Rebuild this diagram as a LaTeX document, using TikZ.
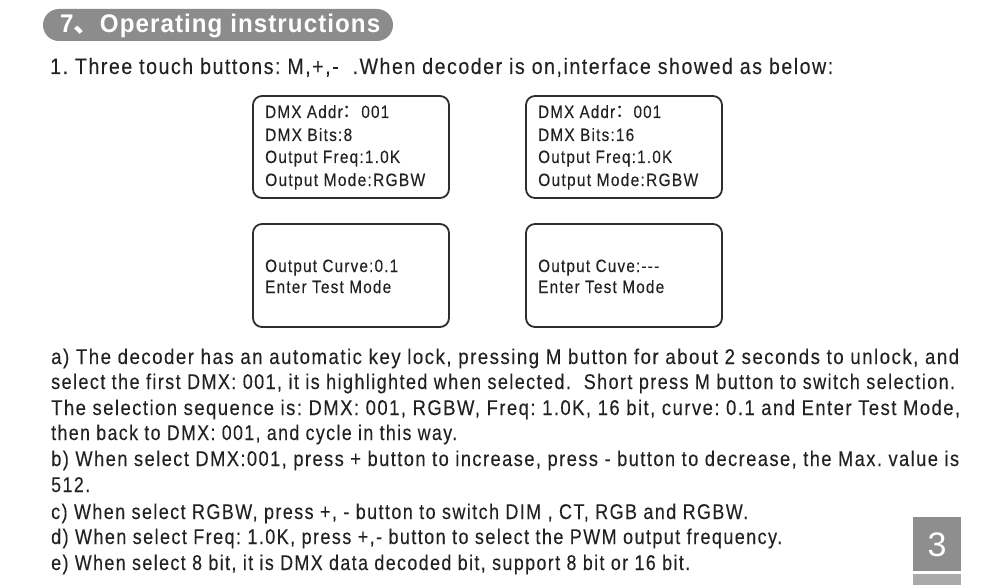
\documentclass[tikz,border=0pt]{standalone}
\usepackage{fontspec}
\usepackage{graphicx}
\setmainfont{Liberation Sans}
\newfontfamily\bodyf[FakeStretch=0.82,LetterSpace=6.5,FakeBold=0.15]{Liberation Sans}
\newfontfamily\titlef[FakeStretch=0.92,LetterSpace=4]{Liberation Sans}
\newfontfamily\cjkf{Noto Sans CJK SC}
\definecolor{txt}{HTML}{222222}
\definecolor{pill}{HTML}{8C8C8C}
\definecolor{pagedark}{HTML}{8E8E8E}
\definecolor{pagelight}{HTML}{AAAAAA}
\definecolor{boxline}{HTML}{2E2E2E}
\newcommand\fitw[2]{\resizebox{#1pt}{\height}{#2}}
\frenchspacing
\tikzset{
  para/.style={anchor=base west, inner sep=0pt, text=txt, font=\bodyf\frenchspacing\fontsize{21.3}{24}\selectfont},
  intro/.style={anchor=base west, inner sep=0pt, text=txt, font=\bodyf\frenchspacing\fontsize{22.3}{24}\selectfont},
  lcd/.style={draw=boxline, line width=1.8pt, rounded corners=9pt, fill=white},
  lcdtext/.style={anchor=base west, inner sep=0pt, text=txt, font=\bodyf\frenchspacing\fontsize{17.8}{20}\selectfont},
}
\begin{document}
\begin{tikzpicture}[x=1pt,y=-1pt]
\useasboundingbox (0,0) rectangle (1000,588);
\fill[white] (0,0) rectangle (1000,588);
% header pill
\fill[pill, rounded corners=16pt] (43,9) rectangle (393,41);
\node[anchor=base west, inner sep=0pt, text=white, font=\titlef\fontsize{25.5}{28}\selectfont\bfseries] (title) at (60,33) {\fitw{320}{7{\cjkf 、}Operating instructions}};
% intro line
\node[intro] (l1) at (50,74) {\fitw{783}{1. Three touch buttons: M,+,-\ \ .When decoder is on,interface showed as below:}};
% LCD boxes
\draw[lcd] (253,96) rectangle (449,198);
\draw[lcd] (526,96) rectangle (722,198);
\draw[lcd] (253,224) rectangle (449,327);
\draw[lcd] (526,224) rectangle (722,327);
\node[lcdtext] (b1a) at (265,118) {\fitw{124}{DMX Addr{\cjkf ：}001}};
\node[lcdtext] (b1b) at (265,141) {\fitw{87}{DMX Bits:8}};
\node[lcdtext] (b1c) at (265,163) {\fitw{135}{Output Freq:1.0K}};
\node[lcdtext] (b1d) at (265,186) {\fitw{160}{Output Mode:RGBW}};
\node[lcdtext] (b2a) at (538,118) {\fitw{123}{DMX Addr{\cjkf ：}001}};
\node[lcdtext] (b2b) at (538,141) {\fitw{96}{DMX Bits:16}};
\node[lcdtext] (b2c) at (538,163) {\fitw{134}{Output Freq:1.0K}};
\node[lcdtext] (b2d) at (538,186) {\fitw{160}{Output Mode:RGBW}};
\node[lcdtext] (b3a) at (265,272) {\fitw{133}{Output Curve:0.1}};
\node[lcdtext] (b3b) at (265,293) {\fitw{126}{Enter Test Mode}};
\node[lcdtext] (b4a) at (538,272) {\fitw{121}{Output Cuve:{-}{-}{-}}};
\node[lcdtext] (b4b) at (538,293) {\fitw{126}{Enter Test Mode}};
% paragraphs
\node[para] (pa1) at (51,364) {\fitw{908}{a) The decoder has an automatic key lock, pressing M button for about 2 seconds to unlock, and}};
\node[para] (pa2) at (51,389) {\fitw{904}{select the first DMX: 001, it is highlighted when selected.\ \ Short press M button to switch selection.}};
\node[para] (pa3) at (51,415) {\fitw{909}{The selection sequence is: DMX: 001, RGBW, Freq: 1.0K, 16 bit, curve: 0.1 and Enter Test Mode,}};
\node[para] (pa4) at (51,440) {\fitw{406}{then back to DMX: 001, and cycle in this way.}};
\node[para] (pb1) at (51,466) {\fitw{908}{b) When select DMX:001, press + button to increase, press - button to decrease, the Max. value is}};
\node[para] (pb2) at (51,492) {\fitw{39}{512.}};
\node[para] (pc) at (51,519) {\fitw{697}{c) When select RGBW, press +, - button to switch DIM , CT, RGB and RGBW.}};
\node[para] (pd) at (51,544) {\fitw{731}{d) When select Freq: 1.0K, press +,- button to select the PWM output frequency.}};
\node[para] (pe) at (51,570) {\fitw{639}{e) When select 8 bit, it is DMX data decoded bit, support 8 bit or 16 bit.}};
% page number
\fill[pagedark] (913,517) rectangle (961,571);
\fill[pagelight] (913,574) rectangle (961,585);
\node[inner sep=0pt, text=white, font=\fontsize{34}{36}\selectfont] (pnum) at (937,545) {3};
\end{tikzpicture}
\end{document}
